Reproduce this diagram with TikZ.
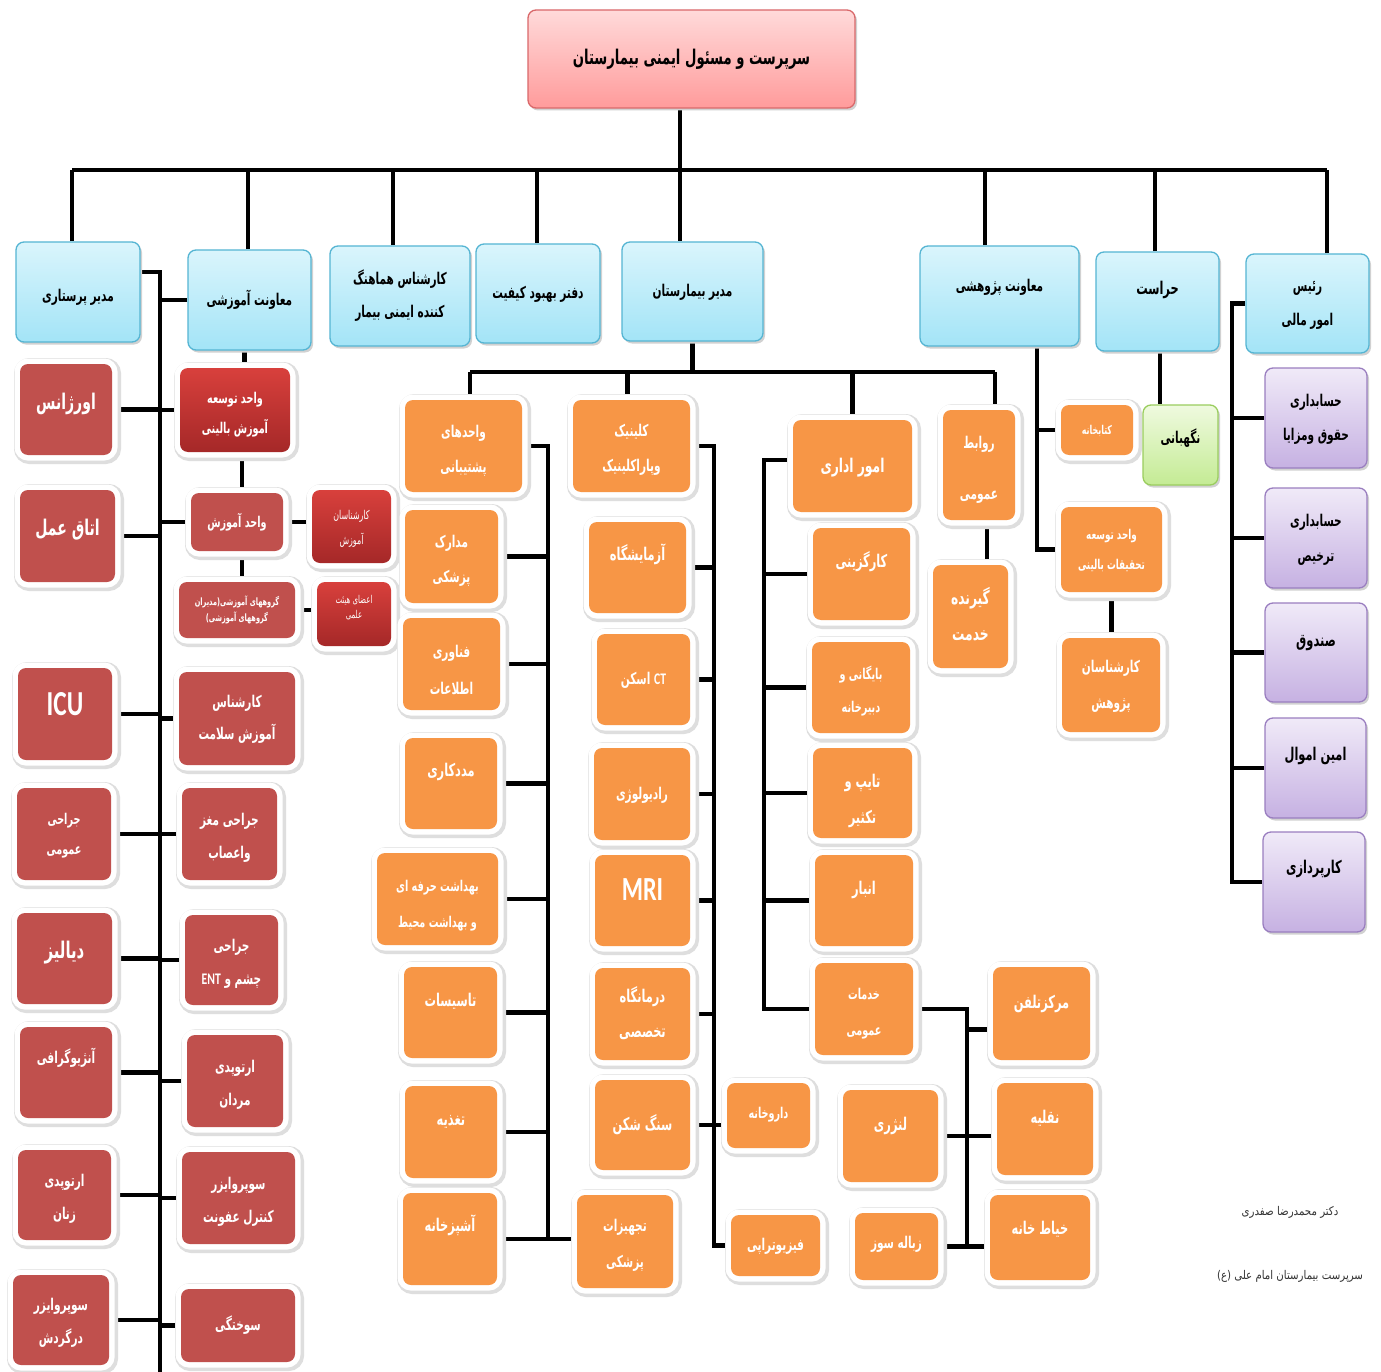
\documentclass[tikz,border=0pt]{standalone}
\usepackage{fontspec}
\TeXXeTstate=1
\newfontfamily\fa[Script=Arabic,FakeStretch=0.65]{DejaVu Sans}
\newfontfamily\fr[Script=Arabic,FakeStretch=0.85]{DejaVu Sans}
\newfontfamily\fl[FakeStretch=0.72]{Carlito}
\newcommand\rl[1]{\beginR#1\endR}
\newcommand\LT[1]{\beginL{\fl #1}\endL}
\definecolor{orgC}{HTML}{F79646}
\definecolor{redC}{HTML}{C0504D}
\definecolor{brT}{HTML}{D8403C}
\definecolor{brB}{HTML}{A52828}
\definecolor{blT}{HTML}{DAF5FC}
\definecolor{blB}{HTML}{A3E4F7}
\definecolor{blD}{HTML}{55B5D3}
\definecolor{pkT}{HTML}{FFDADA}
\definecolor{pkB}{HTML}{FF9B9B}
\definecolor{pkD}{HTML}{D9686A}
\definecolor{puT}{HTML}{F0EAF8}
\definecolor{puB}{HTML}{C6B1E2}
\definecolor{puD}{HTML}{9A7EC0}
\definecolor{grT}{HTML}{EFFADF}
\definecolor{grB}{HTML}{C4EB94}
\definecolor{grD}{HTML}{9ACD5E}
\pgfdeclarelayer{bg}
\pgfsetlayers{bg,main}
\newcommand\bx[8]{\node[#1,minimum width={#5-#3},minimum height={#6-#4}] (#2) at ({(#3+#5)/2},{(#4+#6)/2}) {\raisebox{\dimexpr#7pt-3pt\relax}[0pt][0pt]{\makebox[0pt]{\begin{tabular}{@{}c@{}}#8\end{tabular}}}};}
\begin{document}
\begin{tikzpicture}[x=1pt,y=-1pt,
  fs/.style={font={\pgfmathsetmacro\fsz{1.35*#1}\pgfmathsetmacro\bsk{2.7*#1}\fa\bfseries\fontsize{\fsz}{\bsk}\selectfont}},
  fs2/.style 2 args={font={\pgfmathsetmacro\fsz{1.35*#1}\fa\bfseries\fontsize{\fsz}{#2}\selectfont}},
  rg2/.style 2 args={font={\pgfmathsetmacro\fsz{1.35*#1}\fa\fontsize{\fsz}{#2}\selectfont}},
  base/.style={rectangle,rounded corners=8pt,inner sep=0pt},
  halo/.style={preaction={draw=black!13,line width=15pt,transform canvas={xshift=1.5pt,yshift=-1.5pt}},preaction={draw=white,line width=11pt}},
  soft/.style={preaction={fill=black!18,transform canvas={xshift=2pt,yshift=-2.5pt}}},
  ob/.style={base,halo,fill=orgC,text=white,fs=12},
  rb/.style={base,halo,fill=redC,text=white,fs=12},
  brb/.style={base,halo,top color=brT,bottom color=brB,text=white,fs=11},
  bb/.style={base,soft,top color=blT,bottom color=blB,draw=blD,line width=1.3pt,text=black,fs=12},
  pk/.style={base,soft,top color=pkT,bottom color=pkB,draw=pkD,line width=1.3pt,text=black,fs=15},
  pb/.style={base,soft,top color=puT,bottom color=puB,draw=puD,line width=1.3pt,text=black,fs=12},
  gb/.style={base,soft,top color=grT,bottom color=grB,draw=grD,line width=1.3pt,text=black,fs=12},
  ln/.style={line width=4.5pt,draw=black}]
\useasboundingbox (0,0) rectangle (1381,1372);
% title
\bx{pk}{tt}{528}{10}{855}{108}{0}{\rl{سرپرست و مسئول ایمنی بیمارستان}}
% top row
\bx{bb}{nurse}{16}{242}{140}{342}{-4}{\rl{مدیر پرستاری}}
\bx{bb}{edu}{188}{250}{311}{350}{0}{\rl{معاونت آموزشی}}
\bx{bb,fs2={12}{33}}{safe}{330}{246}{470}{346}{0}{\rl{کارشناس هماهنگ}\\\rl{کننده ایمنی بیمار}}
\bx{bb}{qual}{476}{244}{600}{343}{0}{\rl{دفتر بهبود کیفیت}}
\bx{bb}{mgr}{622}{242}{763}{341}{0}{\rl{مدیر بیمارستان}}
\bx{bb}{res}{920}{246}{1079}{346}{10}{\rl{معاونت پژوهشی}}
\bx{bb,fs=13}{sec}{1096}{252}{1219}{351}{13}{\rl{حراست}}
\bx{bb,fs2={12}{34}}{fin}{1246}{254}{1369}{353}{0}{\rl{رئیس}\\\rl{امور مالی}}
% left red column
\bx{rb,fs=16}{l1}{20}{364}{112}{455}{6}{\rl{اورژانس}}
\bx{rb,fs=16}{l2}{20}{490}{115}{582}{7}{\rl{اتاق عمل}}
\bx{rb,fs=26}{l3}{18}{668}{112}{760}{9}{{\fl ICU}}
\bx{rb,fs=11}{l4}{17}{788}{111}{880}{0}{\rl{جراحی}\\\rl{عمومی}}
\bx{rb,fs=17}{l5}{17}{913}{112}{1004}{6}{\rl{دیالیز}}
\bx{rb,fs=12}{l6}{20}{1027}{112}{1118}{14}{\rl{آنژیوگرافی}}
\bx{rb,fs=12}{l7}{18}{1150}{111}{1240}{-3}{\rl{ارتوپدی}\\\rl{زنان}}
\bx{rb,fs=12}{l8}{13}{1275}{109}{1365}{-2}{\rl{سوپروایزر}\\\rl{درگردش}}
% education column
\bx{brb,fs=11}{dev}{180}{368}{290}{452}{-3}{\rl{واحد توسعه}\\\rl{آموزش بالینی}}
\bx{rb,fs=11}{unit}{191}{493}{283}{551}{0}{\rl{واحد آموزش}}
\bx{brb,rg2={9}{25}}{kex}{312}{490}{391}{563}{0}{\rl{کارشناسان}\\\rl{آموزش}}
\bx{rb,fs2={7.5}{16}}{grp}{179}{582}{295}{638}{0}{\rl{گروههای آموزشی(مدیران}\\\rl{گروههای آموزشی)}}
\bx{brb,rg2={8}{15}}{memb}{317}{582}{391}{646}{6}{\rl{اعضای هیئت}\\\rl{علمی}}
\bx{rb,fs=12}{hl}{179}{672}{295}{765}{0}{\rl{کارشناس}\\\rl{آموزش سلامت}}
\bx{rb,fs=12}{ns}{182}{788}{277}{880}{-3}{\rl{جراحی مغز}\\\rl{واعصاب}}
\bx{rb,fs=12}{ent}{185}{915}{278}{1005}{-3}{\rl{جراحی}\\\rl{چشم و \LT{ENT}}}
\bx{rb,fs=12}{orm}{187}{1035}{283}{1127}{-3}{\rl{ارتوپدی}\\\rl{مردان}}
\bx{rb,fs=12}{ic}{182}{1152}{295}{1244}{-3}{\rl{سوپروایزر}\\\rl{کنترل عفونت}}
\bx{rb,fs=12}{burn}{181}{1289}{295}{1362}{0}{\rl{سوختگی}}
% column A
\bx{ob,fs2={12}{35}}{sup}{405}{400}{522}{492}{-3}{\rl{واحدهای}\\\rl{پشتیبانی}}
\bx{ob,fs2={12}{35}}{mr}{405}{510}{498}{603}{-3}{\rl{مدارک}\\\rl{پزشکی}}
\bx{ob,fs2={12}{37}}{it}{403}{618}{500}{710}{-6}{\rl{فناوری}\\\rl{اطلاعات}}
\bx{ob,fs=13}{sw}{405}{738}{497}{829}{13}{\rl{مددکاری}}
\bx{ob,fs2={11}{36}}{env}{377}{853}{498}{945}{-4}{\rl{بهداشت حرفه ای}\\\rl{و بهداشت محیط}}
\bx{ob,fs=13}{fac}{404}{967}{497}{1058}{12}{\rl{تاسیسات}}
\bx{ob,fs=13}{nut}{405}{1086}{497}{1178}{12}{\rl{تغذیه}}
\bx{ob,fs=13}{kit}{403}{1193}{497}{1285}{13}{\rl{آشپزخانه}}
\bx{ob,fs2={12}{36}}{eq}{577}{1195}{673}{1288}{-2}{\rl{تجهیزات}\\\rl{پزشکی}}
% column B
\bx{ob,fs2={12}{35}}{cl}{573}{400}{690}{492}{-2}{\rl{کلینیک}\\\rl{وپاراکلینیک}}
\bx{ob,fs=13}{lab}{589}{522}{686}{613}{13}{\rl{آزمایشگاه}}
\bx{ob,fs=12}{ct}{597}{634}{690}{725}{0}{\rl{\LT{CT} اسکن}}
\bx{ob,fs=12}{rad}{594}{748}{690}{840}{0}{\rl{رادیولوژی}}
\bx{ob,fs=25}{mri}{595}{855}{690}{946}{10}{{\fl MRI}}
\bx{ob,fs2={13}{35}}{dm}{595}{968}{690}{1060}{0}{\rl{درمانگاه}\\\rl{تخصصی}}
\bx{ob,fs=13}{sk}{595}{1080}{690}{1170}{0}{\rl{سنگ شکن}}
\bx{ob,fs=11}{ph}{727}{1083}{810}{1148}{2}{\rl{داروخانه}}
\bx{ob,fs=12}{pt}{731}{1215}{820}{1276}{0}{\rl{فیزیوتراپی}}
% column C
\bx{ob,fs=14}{adm}{793}{420}{912}{512}{0}{\rl{امور اداری}}
\bx{ob,fs=13}{hr}{813}{528}{910}{620}{12}{\rl{کارگزینی}}
\bx{ob,fs2={11}{33}}{arc}{812}{642}{910}{733}{-2}{\rl{بایگانی و}\\\rl{دبیرخانه}}
\bx{ob,fs2={13}{36}}{typ}{813}{748}{912}{838}{-7}{\rl{تایپ و}\\\rl{تکثیر}}
\bx{ob,fs=13}{ware}{815}{855}{913}{946}{12}{\rl{انبار}}
\bx{ob,fs2={11}{36}}{gen}{815}{963}{913}{1055}{-2}{\rl{خدمات}\\\rl{عمومی}}
% column D
\bx{ob,fs=13}{tel}{993}{967}{1090}{1060}{11}{\rl{مرکزتلفن}}
\bx{ob,fs=13}{lin}{843}{1090}{938}{1182}{11}{\rl{لنژری}}
\bx{ob,fs=13}{trn}{997}{1083}{1093}{1175}{11}{\rl{نقلیه}}
\bx{ob,fs=12}{inc}{855}{1213}{938}{1280}{3}{\rl{زباله سوز}}
\bx{ob,fs=13}{tai}{990}{1195}{1090}{1280}{9}{\rl{خیاط خانه}}
% public relations
\bx{ob,fs2={12}{51}}{pr}{943}{410}{1015}{520}{0}{\rl{روابط}\\\rl{عمومی}}
\bx{ob,fs2={14}{36}}{sr}{933}{565}{1008}{668}{0}{\rl{گیرنده}\\\rl{خدمت}}
% research
\bx{ob,fs=9}{lib}{1061}{405}{1133}{455}{0}{\rl{کتابخانه}}
\bx{ob,fs2={10}{30}}{rd}{1061}{507}{1162}{592}{0}{\rl{واحد توسعه}\\\rl{تحقیقات بالینی}}
\bx{ob,fs2={12}{36}}{rx}{1062}{638}{1160}{732}{0}{\rl{کارشناسان}\\\rl{پژوهش}}
% guard
\bx{gb,fs=12}{guard}{1143}{405}{1218}{485}{7}{\rl{نگهبانی}}
% finance
\bx{pb,fs2={12}{34}}{p1}{1265}{368}{1367}{468}{0}{\rl{حسابداری}\\\rl{حقوق ومزایا}}
\bx{pb,fs2={12}{35}}{p2}{1265}{488}{1367}{588}{0}{\rl{حسابداری}\\\rl{ترخیص}}
\bx{pb,fs=13}{p3}{1265}{603}{1367}{702}{12}{\rl{صندوق}}
\bx{pb,fs=13}{p4}{1265}{718}{1366}{818}{13}{\rl{امین اموال}}
\bx{pb,fs=13}{p5}{1263}{832}{1365}{932}{14}{\rl{کارپردازی}}
% footer
\node[font=\fr\fontsize{12}{14}\selectfont,text=black!80] (ft1) at (1290,1212) {\rl{دکتر محمدرضا صفدری}};
\node[font=\fr\fontsize{12}{14}\selectfont,text=black!80] (ft2) at (1290,1276) {\rl{سرپرست بیمارستان امام علی (ع)}};
% connectors
\begin{pgfonlayer}{bg}
\fill[white] (0,0) rectangle (1381,1372);
\coordinate (busL) at (72,170);
\coordinate (busR) at (1327,170);
\draw[ln] (busL) -- (busR);
\draw[ln] ([xshift=-11.5]tt.south) -- ([xshift=-11.5]tt.south |- mgr.north);
\draw[ln] (nurse.north -| busL) -- (busL);
\draw[ln] ([xshift=-1.5]edu.north) -- ([xshift=-1.5]edu.north |- busL);
\draw[ln] ([xshift=-7]safe.north) -- ([xshift=-7]safe.north |- busL);
\draw[ln] ([xshift=-1]qual.north) -- ([xshift=-1]qual.north |- busL);
\draw[ln] ([xshift=-14.5]res.north) -- ([xshift=-14.5]res.north |- busL);
\draw[ln] ([xshift=-2.5]sec.north) -- ([xshift=-2.5]sec.north |- busL);
\draw[ln] (fin.north -| busR) -- (busR);
% nursing spine
\coordinate (spN) at (160,1372);
\draw[ln] ([yshift=20]nurse.east) -| (spN);
\foreach \nn in {l1,l2,l3,l4,l5,l6,l7,l8} \draw[ln] (\nn.east) -- (\nn.east -| spN);
\foreach \nn in {edu,dev,unit,hl,ns,ent,orm,ic,burn} \draw[ln] (\nn.west) -- (\nn.west -| spN);
\draw[ln] ([xshift=-5]edu.south) -- ([xshift=-5]edu.south |- dev.north);
\draw[ln] ([xshift=5]unit.north) -- ([xshift=5]unit.north |- dev.south);
\draw[ln] (unit.east) -- (unit.east -| kex.west);
\draw[ln] ([xshift=5]unit.south) -- ([xshift=5]unit.south |- grp.north);
\draw[ln] (grp.east) -- (grp.east -| memb.west);
% manager bus
\coordinate (mbL) at (470,372);
\coordinate (mbR) at (995,372);
\draw[ln] (mgr.south) -- (mgr.south |- mbL);
\draw[ln] (mbL) -- (mbR);
\draw[ln] (mbL) -- (mbL |- sup.north);
\draw[ln] ([xshift=-4]cl.north) -- ([xshift=-4]cl.north |- mbL);
\draw[ln] (adm.north) -- (adm.north |- mbL);
\draw[ln] (mbR) -- (mbR |- pr.north);
% column A
\coordinate (spA) at (548,0);
\draw[ln] (sup.east) -| (kit.east -| spA);
\foreach \nn in {mr,it,sw,env,fac,nut} \draw[ln] (\nn.east) -- (\nn.east -| spA);
\draw[ln] (kit.east) -- (kit.east -| eq.west);
% column B
\coordinate (spB) at (714,0);
\draw[ln] (cl.east) -| (pt.west -| spB) -- (pt.west);
\foreach \nn in {lab,ct,rad,mri,dm,sk} \draw[ln] (\nn.east) -- (\nn.east -| spB);
\draw[ln] (sk.east) -- (sk.east -| ph.west);
% column C
\coordinate (spC) at (764,0);
\draw[ln] ([yshift=6]adm.west) -| (gen.west -| spC) -- (gen.west);
\foreach \nn in {hr,arc,typ,ware} \draw[ln] (\nn.west) -- (\nn.west -| spC);
% column D
\coordinate (spD) at (967,0);
\draw[ln] (gen.east) -| (inc.east -| spD);
\draw[ln] (inc.east) -- (inc.east -| tai.west);
\draw[ln] ([yshift=-16]tel.west) -- ([yshift=-16]tel.west -| spD);
\draw[ln] (lin.east) -- (lin.east -| trn.west);
% public relations
\draw[ln] ([xshift=8]pr.south) -- ([xshift=8]pr.south |- sr.north);
% research
\coordinate (spR) at (1037,0);
\draw[ln] (res.south -| spR) |- (rd.west);
\draw[ln] (lib.west) -- (lib.west -| spR);
\draw[ln] (rd.south) -- (rd.south |- rx.north);
\draw[ln] ([xshift=2.5]sec.south) -- ([xshift=2.5]sec.south |- guard.north);
% finance
\coordinate (spF) at (1232,0);
\draw[ln] (fin.west) -| (p5.west -| spF) -- (p5.west);
\foreach \nn in {p1,p2,p3,p4} \draw[ln] (\nn.west) -- (\nn.west -| spF);
\end{pgfonlayer}
\end{tikzpicture}
\end{document}
